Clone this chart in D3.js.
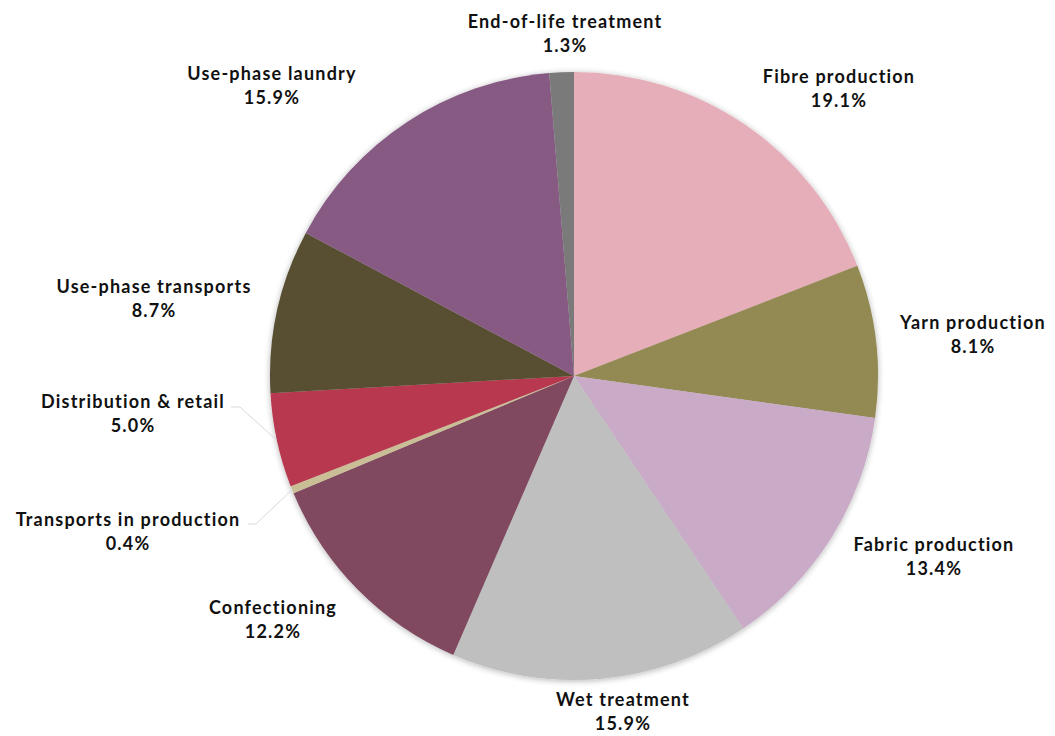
<!DOCTYPE html>
<html>
<head>
<meta charset="utf-8">
<script src="https://cdn.jsdelivr.net/npm/d3@7"></script>
<style>
  body { margin: 0; background: #fff; }
  text { font-family: Lato, "Open Sans", sans-serif; font-weight: bold; font-size: 18px; letter-spacing: 1.2px; fill: #111; }
</style>
</head>
<body>
<div id="chart"></div>
<script>
// data, clockwise from 12 o'clock
var stages = ["Fibre production", "Yarn production", "Fabric production", "Wet treatment",
  "Confectioning", "Transports in production", "Distribution & retail",
  "Use-phase transports", "Use-phase laundry", "End-of-life treatment"];
var shares = [19.1, 8.1, 13.4, 15.9, 12.2, 0.4, 5.0, 8.7, 15.9, 1.3];
var colours = ["#e6aeb8", "#938a53", "#c9aac7", "#bfbfbf", "#804a60",
  "#c9be96", "#b8374f", "#595032", "#875a84", "#7a7a7a"];

// where each label sits (centre of the two text lines)
var labelPos = [[839, 89], [973, 335], [934, 557], [623, 712], [273, 620],
  [128, 532], [133, 414], [154, 299], [272, 86], [565, 34]];
// which labels get a leader line: [x start, y, x bend]
var leaders = {5: [248, 524, 256], 6: [231, 407, 240]};

var width = 1055, height = 736;
var cx = 574, cy = 376, radius = 304;

var svg = d3.select("#chart").append("svg")
    .attr("width", width)
    .attr("height", height);

var defs = svg.append("defs");
var shadow = defs.append("filter").attr("id", "shadow")
    .attr("x", "-10%").attr("y", "-10%").attr("width", "120%").attr("height", "120%");
shadow.append("feGaussianBlur").attr("in", "SourceAlpha").attr("stdDeviation", 3);
shadow.append("feOffset").attr("dx", 0).attr("dy", 1).attr("result", "blur");
shadow.append("feComponentTransfer").append("feFuncA").attr("type", "linear").attr("slope", 0.3);
var merge = shadow.append("feMerge");
merge.append("feMergeNode");
merge.append("feMergeNode").attr("in", "SourceGraphic");

var pie = d3.pie().sort(null).value(function(d) { return d; });
var arcs = pie(shares);

var arc = d3.arc().innerRadius(0).outerRadius(radius);

var plot = svg.append("g")
    .attr("transform", "translate(" + cx + "," + cy + ")");

plot.append("g")
    .attr("filter", "url(#shadow)")
  .selectAll("path")
    .data(arcs)
    .join("path")
    .attr("d", arc)
    .attr("fill", function(d, i) { return colours[i]; });

// leader lines
var edge = d3.arc().innerRadius(radius).outerRadius(radius);
Object.keys(leaders).forEach(function(k) {
  var i = +k, l = leaders[k];
  var p = edge.centroid(arcs[i]);
  svg.append("polyline")
    .attr("points", [[l[0], l[1]], [l[2], l[1]], [cx + p[0], cy + p[1]]].map(function(q) { return q.join(","); }).join(" "))
    .attr("fill", "none")
    .attr("stroke", "#d9d9d9")
    .attr("stroke-width", 1);
});

// labels
var labels = svg.append("g").selectAll("text")
    .data(arcs)
    .join("text")
    .attr("text-anchor", "middle")
    .attr("transform", function(d, i) { return "translate(" + labelPos[i][0] + "," + labelPos[i][1] + ")"; });

labels.append("tspan")
    .attr("x", 0)
    .attr("y", -6)
    .text(function(d, i) { return stages[i]; });
labels.append("tspan")
    .attr("x", 0)
    .attr("y", 18)
    .text(function(d) { return d.data.toFixed(1) + "%"; });
</script>
</body>
</html>
